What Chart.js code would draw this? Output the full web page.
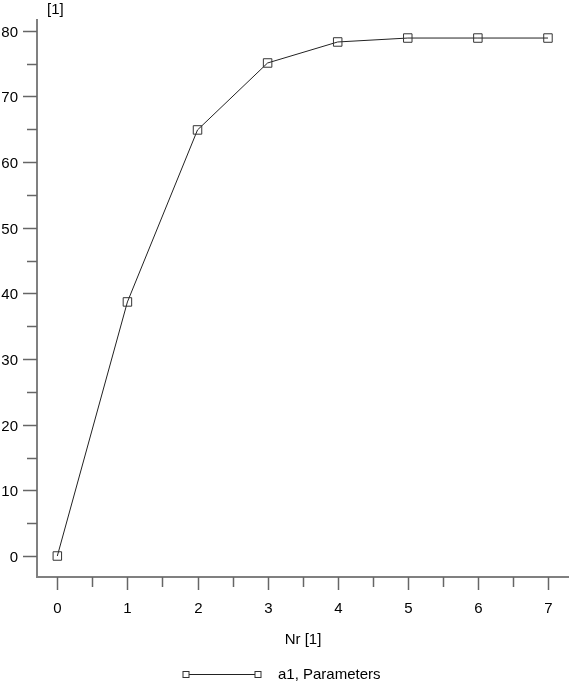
<!DOCTYPE html>
<html>
<head>
<meta charset="utf-8">
<script src="https://cdn.jsdelivr.net/npm/chart.js@4.4.1/dist/chart.umd.min.js"></script>
<style>
  html, body { margin: 0; padding: 0; background: #fff; }
  #wrap { width: 569px; height: 684px; position: relative; }
</style>
</head>
<body>
<div id="wrap"><canvas id="chart" width="569" height="684"></canvas></div>
<script>
// data
const nr = [0, 1, 2, 3, 4, 5, 6, 7];
const a1 = [0, 38.7, 64.9, 75.1, 78.3, 78.9, 78.9, 78.9];
const xTicks = [0, 1, 2, 3, 4, 5, 6, 7];
const yTicks = [0, 10, 20, 30, 40, 50, 60, 70, 80];
const xTitle = "Nr [1]";
const yUnit = "[1]";
const seriesLabel = "a1, Parameters";

const FONT = "15px 'Liberation Sans', Arial, sans-serif";

// draws axes, ticks, labels and legend by hand (old plotting tool look)
const axesPlugin = {
  id: "oldAxes",
  afterDraw(chart) {
    const ctx = chart.ctx;
    const area = chart.chartArea;
    const xs = chart.scales.x;
    const ys = chart.scales.y;
    ctx.save();

    // axis lines
    ctx.strokeStyle = "#808080";
    ctx.lineWidth = 2;
    ctx.beginPath();
    ctx.moveTo(area.left, area.top);
    ctx.lineTo(area.left, area.bottom);
    ctx.lineTo(area.right, area.bottom);
    ctx.stroke();

    // y ticks, major + minor
    ctx.strokeStyle = "#666";
    ctx.lineWidth = 1.5;
    ctx.fillStyle = "#000";
    ctx.font = FONT;
    ctx.textAlign = "right";
    ctx.textBaseline = "middle";
    yTicks.forEach((v) => {
      const y = Math.round(ys.getPixelForValue(v)) + 0.5;
      ctx.beginPath();
      ctx.moveTo(area.left - 14, y);
      ctx.lineTo(area.left, y);
      ctx.stroke();
      ctx.fillText(String(v), area.left - 19, y + 1);
      if (v < 80) {
        const ym = Math.round(ys.getPixelForValue(v + 5)) + 0.5;
        ctx.beginPath();
        ctx.moveTo(area.left - 10, ym);
        ctx.lineTo(area.left, ym);
        ctx.stroke();
      }
    });

    // x ticks
    ctx.textAlign = "center";
    xTicks.forEach((v) => {
      const x = Math.round(xs.getPixelForValue(v)) + 0.5;
      ctx.beginPath();
      ctx.moveTo(x, area.bottom);
      ctx.lineTo(x, area.bottom + 13);
      ctx.stroke();
      ctx.fillText(String(v), x, area.bottom + 32);
      if (v < 7) {
        const xm = Math.round(xs.getPixelForValue(v + 0.5)) + 0.5;
        ctx.beginPath();
        ctx.moveTo(xm, area.bottom);
        ctx.lineTo(xm, area.bottom + 10);
        ctx.stroke();
      }
    });

    // axis titles
    ctx.fillText(xTitle, (area.left + area.right) / 2, area.bottom + 63);
    ctx.textAlign = "left";
    ctx.fillText(yUnit, area.left + 10, 10);

    // legend
    const ly = 674.5;
    ctx.strokeStyle = "#222";
    ctx.lineWidth = 1;
    ctx.beginPath();
    ctx.moveTo(186, ly);
    ctx.lineTo(258, ly);
    ctx.stroke();
    ctx.strokeStyle = "#333";
    ctx.fillStyle = "#fff";
    [186, 258].forEach((cx) => {
      ctx.fillRect(cx - 3, ly - 3, 6, 6);
      ctx.strokeRect(cx - 3, ly - 3, 6, 6);
    });
    ctx.fillStyle = "#000";
    ctx.textBaseline = "middle";
    ctx.fillText(seriesLabel, 278, ly);

    ctx.restore();
  }
};

new Chart(document.getElementById("chart"), {
  type: "line",
  data: {
    labels: nr,
    datasets: [
      {
        label: seriesLabel,
        data: nr.map((x, i) => ({ x: x, y: a1[i] })),
        borderColor: "#222",
        borderWidth: 1,
        backgroundColor: "rgba(255,255,255,0)",
        pointStyle: "rect",
        pointRadius: 6,
        pointBorderColor: "#333",
        pointBorderWidth: 1,
        pointBackgroundColor: "rgba(255,255,255,0)",
        tension: 0,
      },
    ],
  },
  options: {
    responsive: false,
    animation: false,
    devicePixelRatio: 1,
    layout: {
      autoPadding: false,
      padding: { left: 37, top: 19, right: 0, bottom: 107 },
    },
    plugins: {
      legend: { display: false },
      tooltip: { enabled: false },
    },
    scales: {
      x: { type: "linear", display: false, min: -0.29, max: 7.3 },
      y: { type: "linear", display: false, min: -3.2, max: 81.8 },
    },
  },
  plugins: [axesPlugin],
});
</script>
</body>
</html>
